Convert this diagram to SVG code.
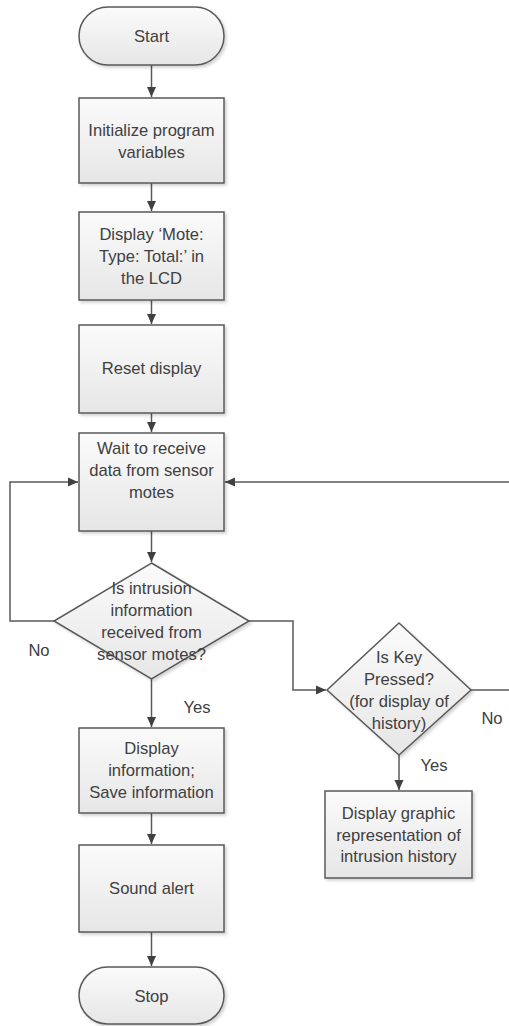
<svg xmlns="http://www.w3.org/2000/svg" width="509" height="1026" viewBox="0 0 509 1026">
<style>
.shape{fill:url(#g);stroke:#595959;stroke-width:1.5;filter:url(#sh)}
.t{font-family:"Liberation Sans",Arial,sans-serif;font-size:16.6px;fill:#404040;text-anchor:middle}
.lbl{font-family:"Liberation Sans",Arial,sans-serif;font-size:16.6px;fill:#404040;text-anchor:middle}
.c{fill:none;stroke:#595959;stroke-width:1.5;marker-end:url(#ah)}
.cn{fill:none;stroke:#595959;stroke-width:1.5}
</style>
<defs>
<linearGradient id="g" x1="0" y1="0" x2="0" y2="1">
<stop offset="0" stop-color="#fbfbfb"/>
<stop offset="1" stop-color="#e6e6e6"/>
</linearGradient>
<filter id="sh" x="-10%" y="-10%" width="125%" height="125%">
<feDropShadow dx="2" dy="2" stdDeviation="1.5" flood-color="#000" flood-opacity="0.18"/>
</filter>
<marker id="ah" markerUnits="userSpaceOnUse" markerWidth="12" markerHeight="12" viewBox="0 0 12 12" refX="11" refY="6" orient="auto">
<path d="M1,1.5 L11,6 L1,10.5 Z" fill="#404040"/>
</marker>
</defs>
<rect width="509" height="1026" fill="#fff"/>
<g id="connectors">
<path class="c" d="M151.5,65 V97"/>
<path class="c" d="M151.5,183 V211"/>
<path class="c" d="M151.5,300 V324"/>
<path class="c" d="M151.5,413 V432"/>
<path class="c" d="M151.5,531 V562"/>
<path class="c" d="M151.5,679 V727"/>
<path class="c" d="M151.5,813 V844"/>
<path class="c" d="M151.5,932 V966"/>
<path class="c" d="M54,621 H10 V482 H78"/>
<path class="c" d="M509,482 H225"/>
<path class="c" d="M249,621 H293 V690 H326"/>
<path class="cn" d="M471,690 H509"/>
<path class="c" d="M399,755 V790"/>
<text class="lbl" x="39" y="656">No</text>
<text class="lbl" x="197" y="713">Yes</text>
<text class="lbl" x="492" y="724">No</text>
<text class="lbl" x="434" y="771">Yes</text>
</g>
<g id="start">
<rect class="shape" x="79" y="7" width="145" height="58" rx="29"/>
<text class="t" x="151.5" y="42">Start</text>
</g>
<g id="init">
<rect class="shape" x="79" y="98" width="145" height="85"/>
<text class="t" x="151.5" y="136">Initialize program</text>
<text class="t" x="151.5" y="158">variables</text>
</g>
<g id="display-lcd">
<rect class="shape" x="79" y="212" width="145" height="88"/>
<text class="t" x="151.5" y="240">Display ‘Mote:</text>
<text class="t" x="151.5" y="262">Type: Total:’ in</text>
<text class="t" x="151.5" y="284">the LCD</text>
</g>
<g id="reset">
<rect class="shape" x="79" y="325" width="145" height="88"/>
<text class="t" x="151.5" y="374">Reset display</text>
</g>
<g id="wait">
<rect class="shape" x="79" y="433" width="145" height="98"/>
<text class="t" x="151.5" y="454">Wait to receive</text>
<text class="t" x="151.5" y="476">data from sensor</text>
<text class="t" x="151.5" y="498">motes</text>
</g>
<g id="decision-intrusion">
<polygon class="shape" points="151.5,563 249,621 151.5,679 54,621"/>
<text class="t" x="151.5" y="594">Is intrusion</text>
<text class="t" x="151.5" y="616">information</text>
<text class="t" x="151.5" y="638">received from</text>
<text class="t" x="151.5" y="660">sensor motes?</text>
</g>
<g id="display-save">
<rect class="shape" x="79" y="728" width="145" height="85"/>
<text class="t" x="151.5" y="754">Display</text>
<text class="t" x="151.5" y="776">information;</text>
<text class="t" x="151.5" y="798">Save information</text>
</g>
<g id="sound">
<rect class="shape" x="79" y="845" width="145" height="87"/>
<text class="t" x="151.5" y="894">Sound alert</text>
</g>
<g id="stop">
<rect class="shape" x="79" y="967" width="145" height="57" rx="28.5"/>
<text class="t" x="151.5" y="1002">Stop</text>
</g>
<g id="decision-key">
<polygon class="shape" points="399,623 471,690 399,755 327,690"/>
<text class="t" x="399" y="663">Is Key</text>
<text class="t" x="399" y="685">Pressed?</text>
<text class="t" x="399" y="707">(for display of</text>
<text class="t" x="399" y="729">history)</text>
</g>
<g id="display-graphic">
<rect class="shape" x="325" y="791" width="147" height="87"/>
<text class="t" x="398.5" y="819">Display graphic</text>
<text class="t" x="398.5" y="841">representation of</text>
<text class="t" x="398.5" y="862">intrusion history</text>
</g>
</svg>
